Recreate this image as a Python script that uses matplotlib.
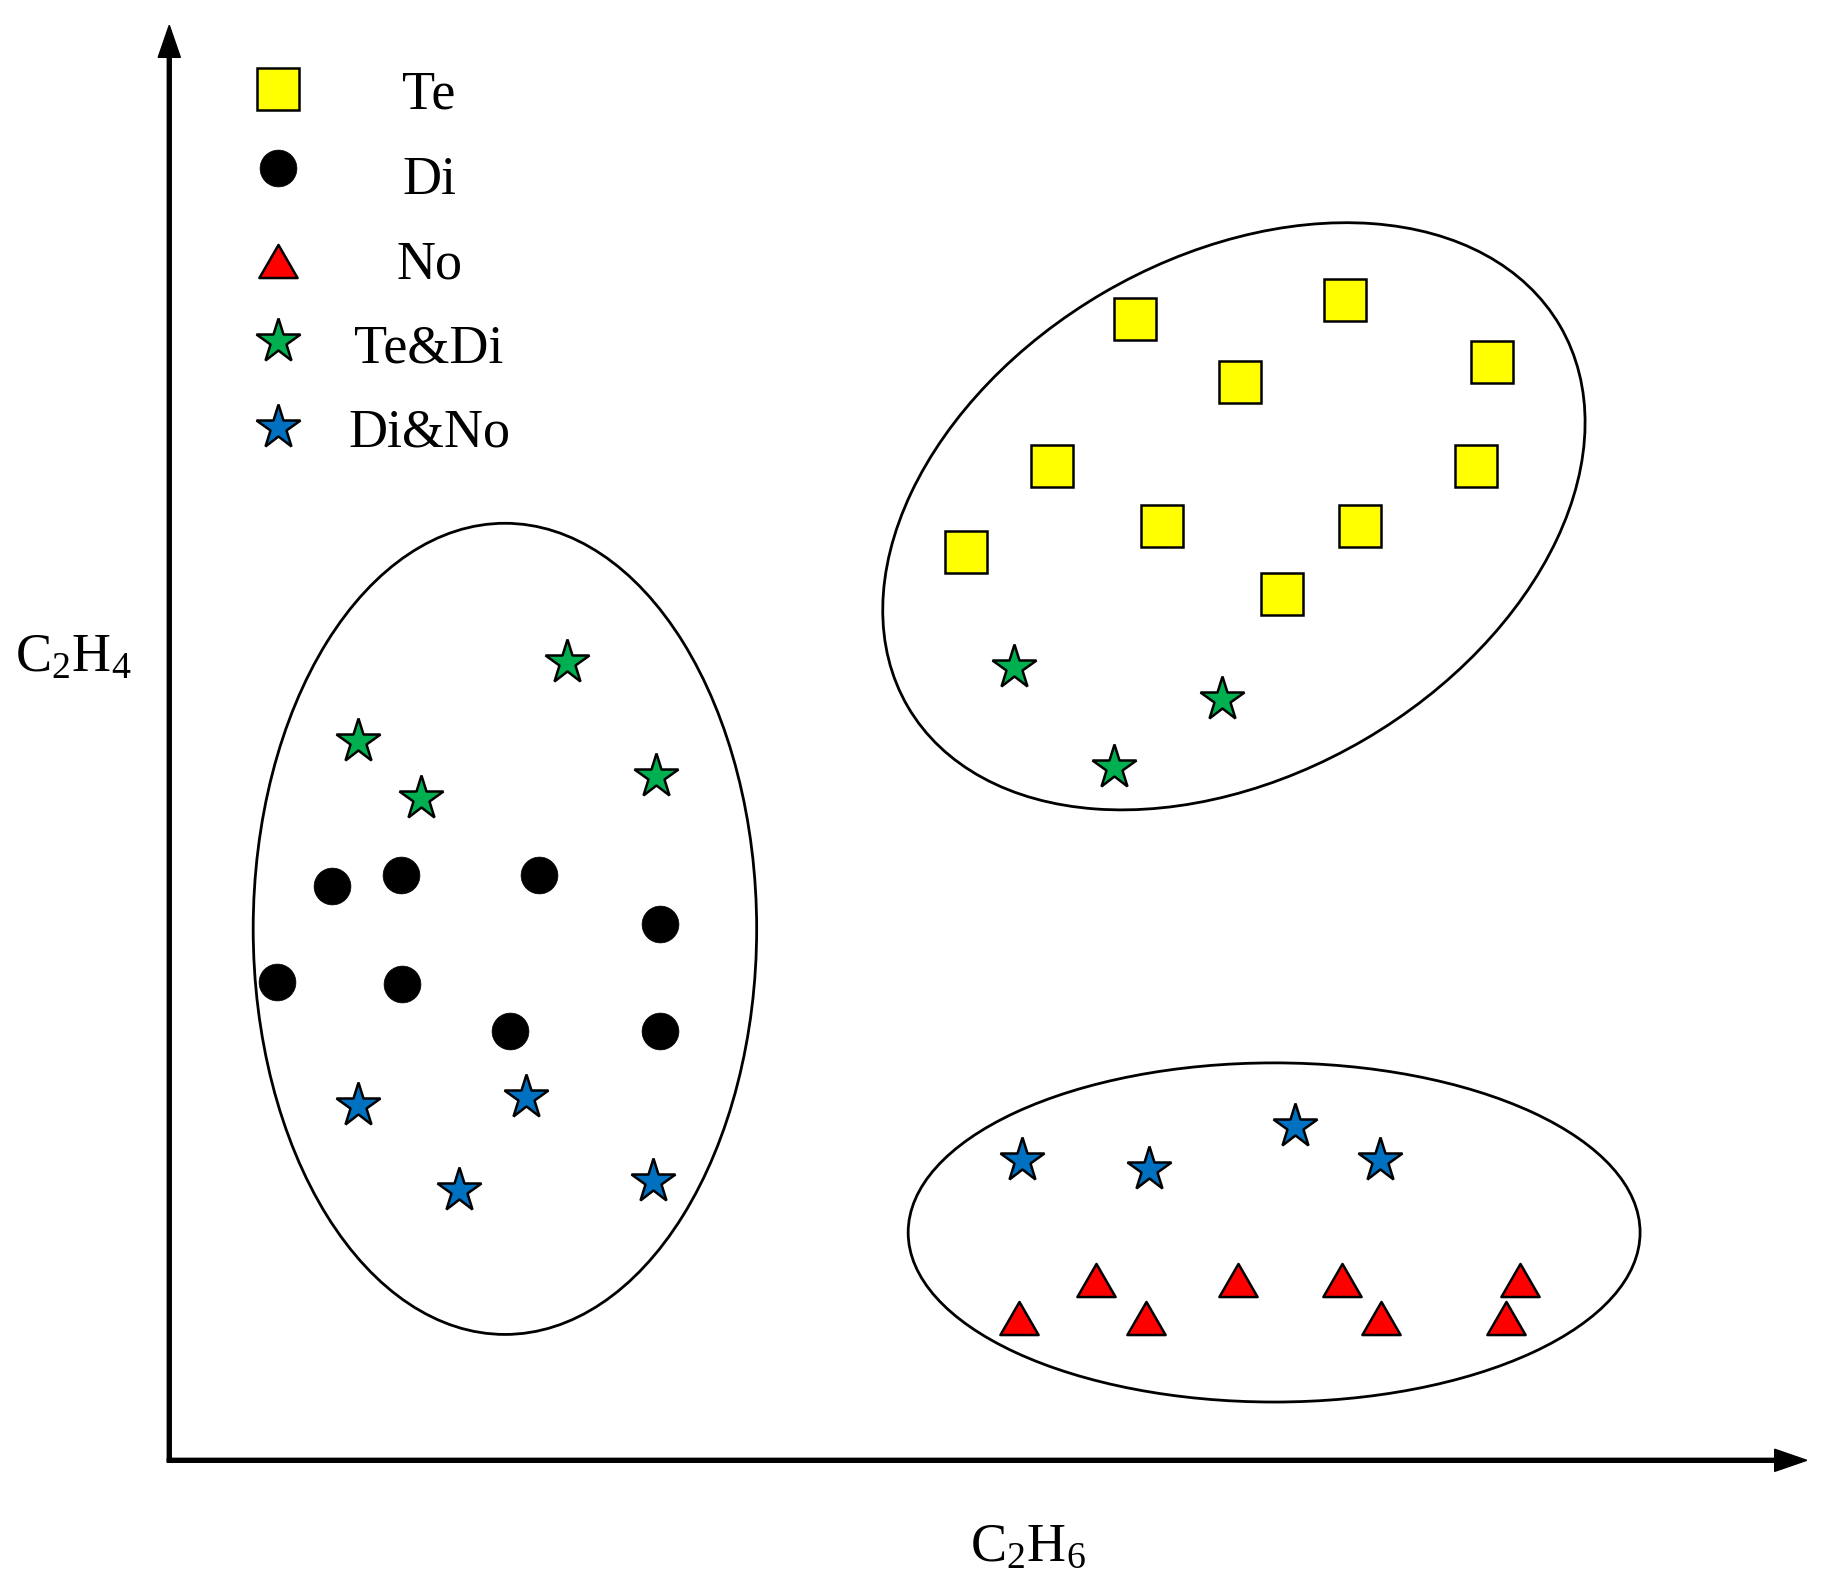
import matplotlib
matplotlib.use('Agg')
import matplotlib.pyplot as plt
from matplotlib.patches import Ellipse
from matplotlib.path import Path
from matplotlib.markers import MarkerStyle

plt.rcParams['font.family'] = ['Liberation Serif', 'DejaVu Serif']
plt.rcParams['mathtext.fontset'] = 'custom'
plt.rcParams['mathtext.rm'] = 'Liberation Serif'
plt.rcParams['mathtext.it'] = 'Liberation Serif:italic'

# ---------------- data ----------------
categories = ['Te', 'Di', 'No', 'Te&Di', 'Di&No']

te_x = [82.9, 100.9, 91.9, 113.5, 75.7, 112.1, 85.2, 102.2, 68.4, 95.5]
te_y = [97.9, 99.6, 92.5, 94.2, 85.3, 85.3, 80.2, 80.2, 77.9, 74.3]

di_x = [14.0, 19.9, 31.7, 42.1, 9.2, 20.0, 29.2, 42.1]
di_y = [49.3, 50.2, 50.2, 46.0, 41.0, 40.9, 36.8, 36.8]

no_x = [72.9, 79.5, 83.8, 91.7, 100.6, 104.0, 114.7, 115.9]
no_y = [12.2, 15.5, 12.2, 15.5, 15.5, 12.2, 12.2, 15.5]

tedi_x = [34.1, 16.2, 21.6, 41.8, 72.5, 90.3, 81.1]
tedi_y = [68.5, 61.7, 56.8, 58.7, 68.1, 65.3, 59.5]

dino_x = [16.2, 30.6, 24.9, 41.5, 73.2, 84.1, 96.6, 103.9]
dino_y = [30.5, 31.2, 23.2, 24.0, 25.8, 25.0, 28.7, 25.8]

# cluster ellipses: centre x, centre y, width, height, angle
ell_cx = [28.8, 94.8, 91.35]
ell_cy = [45.6, 19.55, 81.0]
ell_w = [43.2, 62.8, 64.8]
ell_h = [69.6, 29.1, 44.4]
ell_ang = [0.0, 0.0, 30.3]

x_label = r'$\mathrm{C_2H_6}$'
y_label = r'$\mathrm{C_2H_4}$'

# ---------------- style ----------------
colors = {'Te': '#FFFF00', 'Di': '#000000', 'No': '#FF0000',
          'Te&Di': '#00B050', 'Di&No': '#0070C0'}
tri_path = Path([(-1, -0.866), (1, -0.866), (0, 0.866), (-1, -0.866)], closed=True)
tri_marker = MarkerStyle(tri_path, joinstyle='miter')
markers = {'Te': 's', 'Di': 'o', 'No': tri_marker, 'Te&Di': '*', 'Di&No': '*'}
msizes = {'Te': 30, 'Di': 26.5, 'No': 27.5, 'Te&Di': 33, 'Di&No': 33}
medge = {'Te': 1.8, 'Di': 0.5, 'No': 1.8, 'Te&Di': 1.8, 'Di&No': 1.8}
FS = 39

fig = plt.figure(figsize=(18.28, 15.92), dpi=100)
ax = fig.add_axes([0, 0, 1, 1])
ax.set_xlim(-14.5, 142.3)
ax.set_ylim(-11.3, 125.3)
ax.set_aspect('equal')
ax.axis('off')

# axes arrows
ax.arrow(-0.17, 0, 140.67, 0, width=0.34, head_width=1.9, head_length=2.75,
         length_includes_head=True, color='black', zorder=3)
ax.arrow(0, -0.17, 0, 123.3, width=0.34, head_width=1.9, head_length=2.75,
         length_includes_head=True, color='black', zorder=3)

# ellipses
for cx, cy, w, h, a in zip(ell_cx, ell_cy, ell_w, ell_h, ell_ang):
    ax.add_patch(Ellipse((cx, cy), w, h, angle=a, fill=False,
                         edgecolor='black', linewidth=2.0, zorder=2))

series = {'Te': (te_x, te_y), 'Di': (di_x, di_y), 'No': (no_x, no_y),
          'Te&Di': (tedi_x, tedi_y), 'Di&No': (dino_x, dino_y)}
for cat in categories:
    xs, ys = series[cat]
    ax.plot(xs, ys, linestyle='none', marker=markers[cat], markersize=msizes[cat],
            markerfacecolor=colors[cat], markeredgecolor='black',
            markeredgewidth=medge[cat], zorder=4)

# manual legend
leg_marker_x = 9.3
leg_marker_y = [117.7, 110.9, 102.9, 96.0, 88.7]
leg_text_x = 22.3
leg_text_y = [115.95, 108.66, 101.44, 94.2, 87.0]
for cat, my, ty in zip(categories, leg_marker_y, leg_text_y):
    ax.plot([leg_marker_x], [my], linestyle='none', marker=markers[cat],
            markersize=msizes[cat], markerfacecolor=colors[cat],
            markeredgecolor='black', markeredgewidth=medge[cat], zorder=4)
    ax.text(leg_text_x, ty, cat, ha='center', va='baseline', fontsize=FS)

ax.text(73.7, -7.5, x_label, ha='center', va='center', fontsize=FS)
ax.text(-8.2, 68.8, y_label, ha='center', va='center', fontsize=FS)

fig.savefig('out.png', dpi=100, facecolor='white')
